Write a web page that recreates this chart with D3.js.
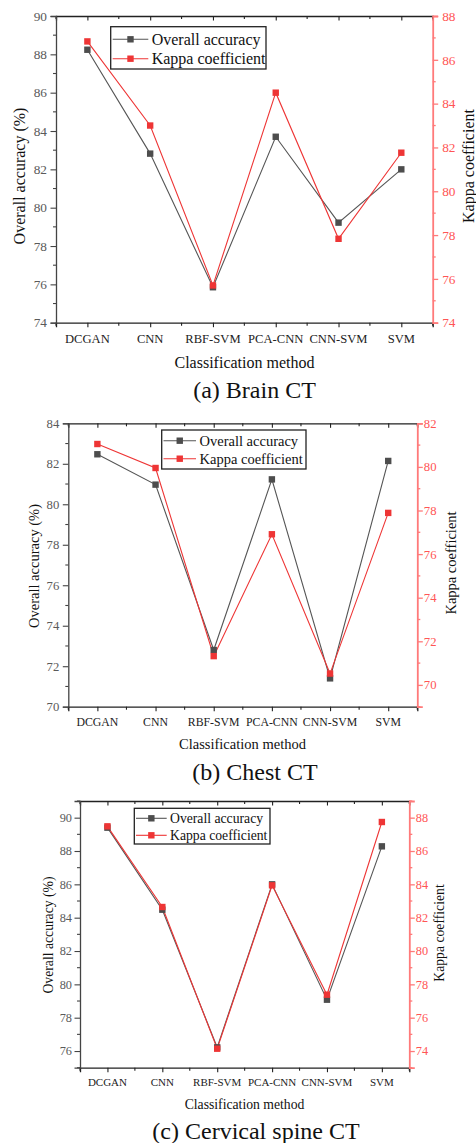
<!DOCTYPE html>
<html><head><meta charset="utf-8">
<script src="https://cdn.jsdelivr.net/npm/d3@7"></script>
<style>
html,body{margin:0;padding:0;background:#fff;}
svg{display:block;}
svg text{font-family:"Liberation Serif","Times New Roman",serif !important;}
</style></head>
<body>
<svg id="chart" width="476" height="1143"></svg>
<script>
const categories = ["DCGAN","CNN","RBF-SVM","PCA-CNN","CNN-SVM","SVM"];
const seriesNames = ["Overall accuracy","Kappa coefficient"];
// (a) Brain CT
const accA = [88.24, 82.82, 75.85, 83.7, 79.22, 82.0];
const kappaA = [86.84, 83.0, 75.7, 84.5, 77.83, 81.76];
const leftTicksA = [74,76,78,80,82,84,86,88,90];
const rightTicksA = [74,76,78,80,82,84,86,88];
// (b) Chest CT
const accB = [82.47, 80.97, 72.8, 81.23, 71.4, 82.14];
const kappaB = [81.05, 79.95, 71.32, 76.91, 70.52, 77.89];
const leftTicksB = [70,72,74,76,78,80,82,84];
const rightTicksB = [70,72,74,76,78,80,82];
// (c) Cervical spine CT
const accC = [89.4, 84.48, 76.22, 86.0, 79.08, 88.28];
const kappaC = [87.48, 82.64, 74.14, 83.94, 77.38, 87.74];
const leftTicksC = [76,78,80,82,84,86,88,90];
const rightTicksC = [74,76,78,80,82,84,86,88];
const subtitles = ["(a) Brain CT","(b) Chest CT","(c) Cervical spine CT"];
const xTitle = "Classification method";
const yLeftTitle = "Overall accuracy (%)";
const yRightTitle = "Kappa coefficient";

const panels = [
  {acc:accA, kappa:kappaA, lt:leftTicksA, rt:rightTicksA, ld:[74,90], rd:[74,88], sub:subtitles[0],
   x0:56, x1:432.7, y0:16, y1:322.7, tickFs:13.3, catFs:12.6, titleFs:16, catY:338.3, titleY:362.7, titleX:244.5,
   subY:390, subX:254.5, lgx0:110.7, lgx1:266, lgy0:26.7, lgy1:69, lgr:[39.3,58.7], lgLine:[112.7,148.3], lgText:151.7,
   ylx:19, yly:176, yrx:468, yry:166, lGap:9, rGap:9.5},
  {acc:accB, kappa:kappaB, lt:leftTicksB, rt:rightTicksB, ld:[70,84], rd:[69,82], sub:subtitles[1],
   x0:68.3, x1:417.3, y0:423.3, y1:706.7, tickFs:12.7, catFs:11.8, titleFs:14.5, catY:721.7, titleY:744.3, titleX:242.5,
   subY:772, subX:255, lgx0:161.7, lgx1:306, lgy0:430, lgy1:469, lgr:[440.7,458.7], lgLine:[163.5,196], lgText:199.5,
   ylx:34, yly:566, yrx:451, yry:563, lGap:9, rGap:6},
  {acc:accC, kappa:kappaC, lt:leftTicksC, rt:rightTicksC, ld:[75,91], rd:[73,89], sub:subtitles[2],
   x0:80, x1:409.3, y0:801, y1:1067.7, tickFs:12.3, catFs:11, titleFs:13.7, catY:1082.3, titleY:1104, titleX:244.5,
   subY:1130.5, subX:256, lgx0:134.3, lgx1:270, lgy0:808.3, lgy1:844, lgr:[818.3,835.3], lgLine:[136,166.7], lgText:170,
   ylx:48.5, yly:935, yrx:439, yry:933, lGap:8, rGap:5}
];

const GRAY = "#4d4d4d", RED = "#ee3535", RAXIS = "#ff7a7a";
const svg = d3.select("#chart");

panels.forEach(p => {
  const g = svg.append("g");
  const x = d3.scalePoint().domain(categories).range([p.x0, p.x1]).padding(0.5);
  const band = d3.scaleBand().domain(categories).range([p.x0, p.x1]);
  const yl = d3.scaleLinear().domain(p.ld).range([p.y1, p.y0]);
  const yr = d3.scaleLinear().domain(p.rd).range([p.y1, p.y0]);
  const bounds = [p.x0].concat(categories.map(c => band(c) + band.bandwidth()));

  const bx = g.append("g").attr("transform", `translate(0,${p.y1})`)
    .call(d3.axisBottom(x).tickSize(4.5).tickPadding(4));
  bx.select(".domain").attr("stroke", "#222").attr("stroke-width", 1.3);
  bx.selectAll(".tick line").attr("stroke", "#222").attr("stroke-width", 1.1);
  bx.selectAll(".tick text").remove();
  g.append("g").selectAll("line").data(bounds).join("line")
    .attr("x1", d => d).attr("x2", d => d).attr("y1", p.y1).attr("y2", p.y1 + 3)
    .attr("stroke", "#222").attr("stroke-width", 1.1);
  g.append("g").selectAll("text").data(categories).join("text")
    .attr("x", d => x(d)).attr("y", p.catY).attr("dy", "0.35em").attr("text-anchor", "middle")
    .attr("font-size", p.catFs).attr("fill", "#222").text(d => d);

  const tx = g.append("g").attr("transform", `translate(0,${p.y0})`)
    .call(d3.axisBottom(x).tickSize(4.5));
  tx.select(".domain").attr("stroke", "#222").attr("stroke-width", 1.3);
  tx.selectAll(".tick line").attr("stroke", "#222").attr("stroke-width", 1.1);
  tx.selectAll(".tick text").remove();
  g.append("g").selectAll("line").data(bounds).join("line")
    .attr("x1", d => d).attr("x2", d => d).attr("y1", p.y0).attr("y2", p.y0 + 3)
    .attr("stroke", "#222").attr("stroke-width", 1.1);

  const lx = g.append("g").attr("transform", `translate(${p.x0},0)`)
    .call(d3.axisLeft(yl).tickValues(p.lt).tickFormat(d3.format("d")).tickSize(5.5).tickPadding(p.lGap - 5.5));
  lx.attr("font-family", null);
  lx.select(".domain").attr("stroke", "#444").attr("stroke-width", 1.3);
  lx.selectAll(".tick line").attr("stroke", "#444").attr("stroke-width", 1.1);
  lx.selectAll(".tick text").attr("font-size", p.tickFs).attr("fill", "#5a5a5a");
  const lMinor = d3.range(Math.ceil(p.ld[0]), p.ld[1] + 0.001, 1).filter(v => !p.lt.includes(v));
  g.append("g").selectAll("line").data(lMinor).join("line")
    .attr("x1", p.x0).attr("x2", p.x0 - 3).attr("y1", d => yl(d)).attr("y2", d => yl(d))
    .attr("stroke", "#444").attr("stroke-width", 1.1);

  const rx = g.append("g").attr("transform", `translate(${p.x1},0)`)
    .call(d3.axisRight(yr).tickValues(p.rt).tickFormat(d3.format("d")).tickSize(5.5).tickPadding(Math.max(1, p.rGap - 5.5)));
  rx.attr("font-family", null);
  rx.select(".domain").attr("stroke", RAXIS).attr("stroke-width", 1.8);
  rx.selectAll(".tick line").attr("stroke", RAXIS).attr("stroke-width", 1.3);
  rx.selectAll(".tick text").attr("font-size", p.tickFs).attr("fill", "#ff5555");
  const rMinor = d3.range(Math.ceil(p.rd[0]), p.rd[1] + 0.001, 1).filter(v => !p.rt.includes(v));
  g.append("g").selectAll("line").data(rMinor).join("line")
    .attr("x1", p.x1).attr("x2", p.x1 + 3).attr("y1", d => yr(d)).attr("y2", d => yr(d))
    .attr("stroke", RAXIS).attr("stroke-width", 1.3);

  const lineL = d3.line().x((d, i) => x(categories[i])).y(d => yl(d));
  const lineR = d3.line().x((d, i) => x(categories[i])).y(d => yr(d));
  g.append("path").datum(p.acc).attr("d", lineL).attr("fill", "none").attr("stroke", "#555").attr("stroke-width", 1.1);
  g.append("path").datum(p.kappa).attr("d", lineR).attr("fill", "none").attr("stroke", RED).attr("stroke-width", 1.1);
  const ms = 6.4;
  g.append("g").selectAll("rect").data(p.acc).join("rect")
    .attr("x", (d, i) => x(categories[i]) - ms / 2).attr("y", d => yl(d) - ms / 2)
    .attr("width", ms).attr("height", ms).attr("fill", GRAY);
  g.append("g").selectAll("rect").data(p.kappa).join("rect")
    .attr("x", (d, i) => x(categories[i]) - ms / 2).attr("y", d => yr(d) - ms / 2)
    .attr("width", ms).attr("height", ms).attr("fill", RED);

  const lg = g.append("g");
  lg.append("rect").attr("x", p.lgx0).attr("y", p.lgy0).attr("width", p.lgx1 - p.lgx0).attr("height", p.lgy1 - p.lgy0)
    .attr("fill", "#fff").attr("stroke", "#222").attr("stroke-width", 1.3);
  [[GRAY, "#555"], [RED, RED]].forEach((c, i) => {
    const yy = p.lgr[i];
    const mx = (p.lgLine[0] + p.lgLine[1]) / 2;
    lg.append("line").attr("x1", p.lgLine[0]).attr("x2", p.lgLine[1]).attr("y1", yy).attr("y2", yy)
      .attr("stroke", c[1]).attr("stroke-width", 1.1);
    lg.append("rect").attr("x", mx - ms / 2).attr("y", yy - ms / 2).attr("width", ms).attr("height", ms).attr("fill", c[0]);
    lg.append("text").attr("x", p.lgText).attr("y", yy).attr("dy", "0.35em").attr("font-size", p.titleFs)
      .attr("fill", "#111").text(seriesNames[i]);
  });

  g.append("text").attr("x", p.titleX).attr("y", p.titleY).attr("dy", "0.35em").attr("text-anchor", "middle")
    .attr("font-size", p.titleFs).attr("fill", "#111").text(xTitle);
  g.append("text").attr("transform", `translate(${p.ylx},${p.yly}) rotate(-90)`).attr("dy", "0.35em")
    .attr("text-anchor", "middle").attr("font-size", p.titleFs).attr("fill", "#111").text(yLeftTitle);
  g.append("text").attr("transform", `translate(${p.yrx},${p.yry}) rotate(-90)`).attr("dy", "0.35em")
    .attr("text-anchor", "middle").attr("font-size", p.titleFs).attr("fill", "#111").text(yRightTitle);
  g.append("text").attr("x", p.subX).attr("y", p.subY).attr("dy", "0.35em").attr("text-anchor", "middle")
    .attr("font-size", 24).attr("fill", "#111").text(p.sub);
});
</script>
</body></html>
